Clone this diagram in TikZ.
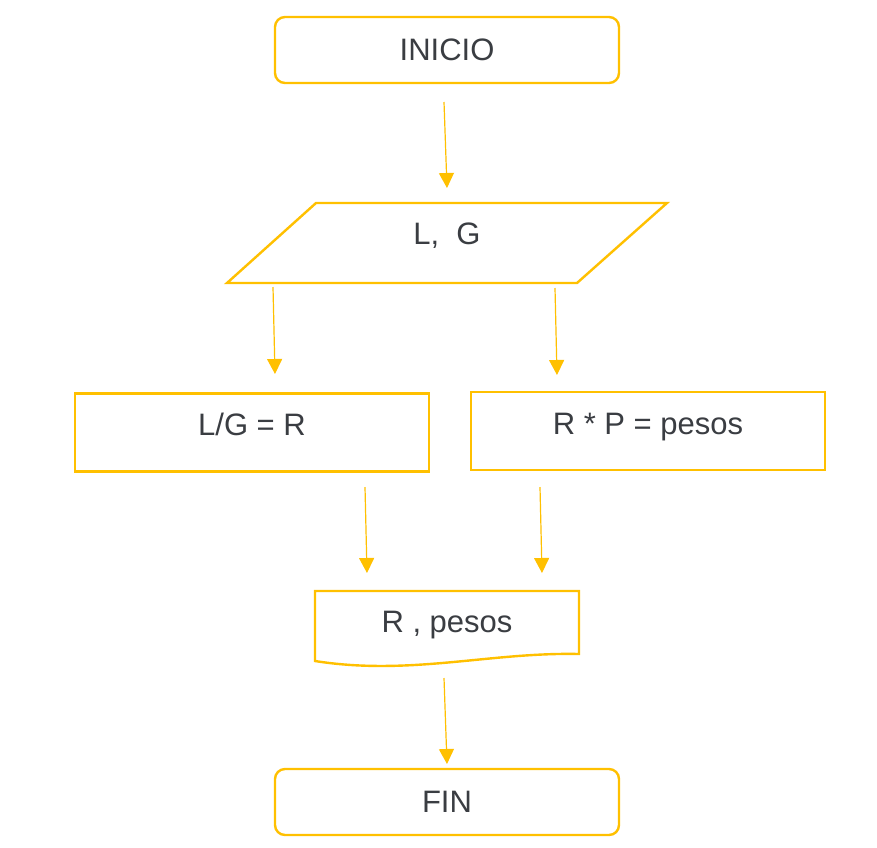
\documentclass[tikz,border=0pt]{standalone}
\usepackage{fontspec}
\setmainfont{Liberation Sans}
\usetikzlibrary{arrows.meta}
\definecolor{fc}{HTML}{FFC000}
\definecolor{tc}{HTML}{3A3D42}
\begin{document}
\begin{tikzpicture}[x=1pt,y=-1pt,
  lbl/.style={text=tc,font=\fontsize{31}{36}\selectfont,inner sep=0pt,anchor=base},
  termbox/.style={draw=fc,line width=2.4pt,rounded corners=10pt,minimum width=344pt,minimum height=66pt,inner sep=0pt},
  procbox/.style={draw=fc,line width=2.4pt,minimum width=354pt,minimum height=78pt,inner sep=0pt},
  flow/.style={draw=fc,line width=1.2pt,-{Triangle[length=15pt,width=15pt]}},
  shapeline/.style={draw=fc,line width=2.4pt,line join=miter}]
\useasboundingbox (0,0) rectangle (877,847);
\fill[white] (0,0) rectangle (877,847);
% shapes
\node[termbox] (inicio) at (447,50) {};
\draw[shapeline] (316,203) -- (667,203) -- (577,283) -- (227,283) -- cycle;
\node[procbox] (lgr) at (252,432.5) {};
\node[procbox] (rp) at (648,431) {};
\draw[shapeline] (315,591) -- (579,591) -- (579,654)
  .. controls (490,652) and (410,676) .. (315,661) -- cycle;
\node[termbox] (fin) at (447,802) {};
% texts
\node[lbl] (inicioT) at (447,60) {INICIO};
\node[lbl] (lg) at (447,244) {L,\ \ G};
\node[lbl] (lgrT) at (252,435) {L/G = R};
\node[lbl] (rpT) at (648,434) {R * P = pesos};
\node[lbl] (out) at (447,632.5) {R , pesos};
\node[lbl] (finT) at (447,812.5) {FIN};
% arrow end points
\coordinate (a1s) at (444,102); \coordinate (a1e) at (447,188);
\coordinate (a2s) at (273,287); \coordinate (a2e) at (275,374);
\coordinate (a3s) at (555,288); \coordinate (a3e) at (557,375);
\coordinate (a4s) at (365,487); \coordinate (a4e) at (367,573);
\coordinate (a5s) at (540,487); \coordinate (a5e) at (542,573);
\coordinate (a6s) at (444,678); \coordinate (a6e) at (447,764);
\draw[flow] (a1s) -- (a1e);
\draw[flow] (a2s) -- (a2e);
\draw[flow] (a3s) -- (a3e);
\draw[flow] (a4s) -- (a4e);
\draw[flow] (a5s) -- (a5e);
\draw[flow] (a6s) -- (a6e);
\end{tikzpicture}
\end{document}
